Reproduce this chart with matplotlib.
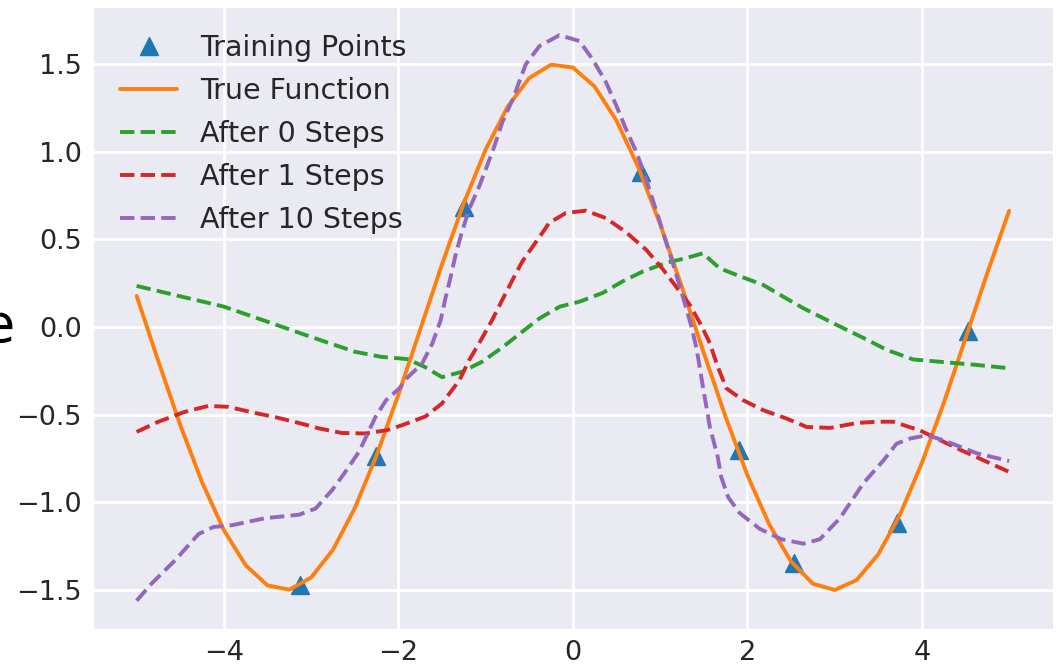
import matplotlib
matplotlib.use('Agg')
import matplotlib.pyplot as plt
import seaborn as sns

sns.set_style('darkgrid')
plt.rcParams['font.family'] = ['DejaVu Sans']

# training points (blue triangles)
train_x = [-3.13, -2.26, -1.247, 0.78, 1.90, 2.53, 3.72, 4.53]
train_y = [-1.47, -0.737, 0.686, 0.886, -0.703, -1.343, -1.12, -0.023]

true_x = [-5.0, -4.75, -4.5, -4.25, -4.0, -3.75, -3.5, -3.25, -3.0, -2.75,
          -2.5, -2.25, -2.0, -1.75, -1.5, -1.25, -1.0, -0.75, -0.5, -0.25,
          0.0, 0.25, 0.5, 0.75, 1.0, 1.25, 1.5, 1.75, 2.0, 2.25,
          2.5, 2.75, 3.0, 3.25, 3.5, 3.75, 4.0, 4.25, 4.5, 4.75, 5.0]
true_y = [0.177, -0.197, -0.559, -0.885, -1.158, -1.358, -1.473, -1.497, -1.428, -1.270,
          -1.033, -0.732, -0.386, -0.015, 0.357, 0.706, 1.011, 1.254, 1.419, 1.495,
          1.479, 1.370, 1.176, 0.910, 0.586, 0.227, -0.147, -0.512, -0.845, -1.125,
          -1.336, -1.463, -1.499, -1.443, -1.296, -1.069, -0.775, -0.434, -0.065, 0.308, 0.662]

# after 0 steps
step0_x = [-5.0, -4.5, -4.0, -3.5, -3.0, -2.5, -2.2, -1.9, -1.7, -1.5, -1.27, -1.04,
           -0.8, -0.58, -0.38, -0.15, 0.08, 0.34, 0.57, 0.8, 1.07, 1.3, 1.49, 1.68,
           1.91, 2.18, 2.41, 2.64, 2.87, 3.1, 3.34, 3.6, 3.9, 4.2, 4.6, 5.0]
step0_y = [0.234, 0.175, 0.116, 0.03, -0.057, -0.141, -0.17, -0.183, -0.227, -0.286, -0.255, -0.198,
           -0.113, -0.027, 0.05, 0.116, 0.145, 0.194, 0.26, 0.316, 0.366, 0.393, 0.42, 0.335,
           0.29, 0.24, 0.173, 0.107, 0.05, -0.007, -0.065, -0.131, -0.185, -0.198, -0.215, -0.235]

# after 1 step
step1_x = [-5.0, -4.75, -4.45, -4.18, -3.95, -3.68, -3.41, -3.14, -2.91, -2.65, -2.38, -2.13,
           -1.96, -1.69, -1.5, -1.3, -1.19, -1.075, -0.925, -0.81, -0.69, -0.58, -0.42, -0.27,
           -0.08, 0.15, 0.38, 0.61, 0.84, 1.03, 1.19, 1.34, 1.47, 1.57, 1.66, 1.76,
           1.95, 2.18, 2.45, 2.68, 2.95, 3.26, 3.48, 3.67, 3.98, 4.44, 5.0]
step1_y = [-0.598, -0.54, -0.484, -0.45, -0.455, -0.486, -0.514, -0.547, -0.578, -0.604, -0.607, -0.588,
           -0.56, -0.51, -0.436, -0.303, -0.19, -0.093, 0.04, 0.154, 0.27, 0.373, 0.487, 0.594,
           0.65, 0.663, 0.62, 0.54, 0.44, 0.33, 0.225, 0.126, 0.011, -0.093, -0.227, -0.35,
           -0.417, -0.474, -0.522, -0.57, -0.575, -0.547, -0.54, -0.54, -0.59, -0.70, -0.826]

# after 10 steps
step10_x = [-5.0, -4.83, -4.56, -4.29, -4.12, -3.91, -3.53, -3.14, -2.95, -2.76, -2.61, -2.45,
            -2.26, -2.14, -1.99, -1.9, -1.73, -1.61, -1.515, -1.46, -1.40, -1.34, -1.27, -1.19,
            -1.075, -1.0, -0.9, -0.81, -0.69, -0.54, -0.385, -0.155, 0.075, 0.225, 0.38, 0.5,
            0.61, 0.73, 0.84, 0.99, 1.07, 1.145, 1.26, 1.36, 1.42, 1.49, 1.57, 1.66,
            1.70, 1.78, 1.91, 2.14, 2.39, 2.64, 2.83, 3.06, 3.33, 3.56, 3.71, 3.87,
            4.06, 4.25, 4.63, 5.0]
step10_y = [-1.56, -1.463, -1.33, -1.18, -1.14, -1.13, -1.09, -1.07, -1.035, -0.93, -0.827, -0.71,
            -0.51, -0.417, -0.35, -0.29, -0.21, -0.093, 0.04, 0.165, 0.287, 0.42, 0.545, 0.67,
            0.80, 0.897, 1.03, 1.166, 1.297, 1.497, 1.60, 1.663, 1.63, 1.526, 1.394, 1.259,
            1.126, 0.994, 0.84, 0.61, 0.48, 0.365, 0.173, 0.0, -0.13, -0.34, -0.57, -0.74,
            -0.855, -0.97, -1.06, -1.15, -1.21, -1.235, -1.21, -1.09, -0.89, -0.76, -0.665, -0.635,
            -0.617, -0.646, -0.72, -0.764]

fig = plt.figure(figsize=(10.57, 6.66), dpi=100)
ax = fig.add_axes([0.088, 0.0556, 0.908, 0.934])

lw = 2.8
ax.plot(train_x, train_y, '^', color='#1f77b4', markersize=13, label='Training Points')
ax.plot(true_x, true_y, '-', color='#ff7f0e', lw=lw, label='True Function')
ax.plot(step0_x, step0_y, '--', color='#2ca02c', lw=lw, label='After 0 Steps')
ax.plot(step1_x, step1_y, '--', color='#d62728', lw=lw, label='After 1 Steps')
ax.plot(step10_x, step10_y, '--', color='#9467bd', lw=lw, label='After 10 Steps')

ax.set_xticks([-4, -2, 0, 2, 4])
ax.set_yticks([-1.5, -1.0, -0.5, 0.0, 0.5, 1.0, 1.5])
ax.tick_params(labelsize=19.5, pad=8, length=0, labelcolor='#262626')
ax.grid(True, color='white', lw=2)
ax.legend(loc='upper left', fontsize=20.5, frameon=False, labelspacing=0.53,
          numpoints=1, borderaxespad=0.55)

# leftover of a label cut off by the crop
fig.text(15 / 1057, 1 - 342 / 666, 'e', fontsize=39, ha='right', va='baseline', color='black')

fig.savefig('out.png', dpi=100)
